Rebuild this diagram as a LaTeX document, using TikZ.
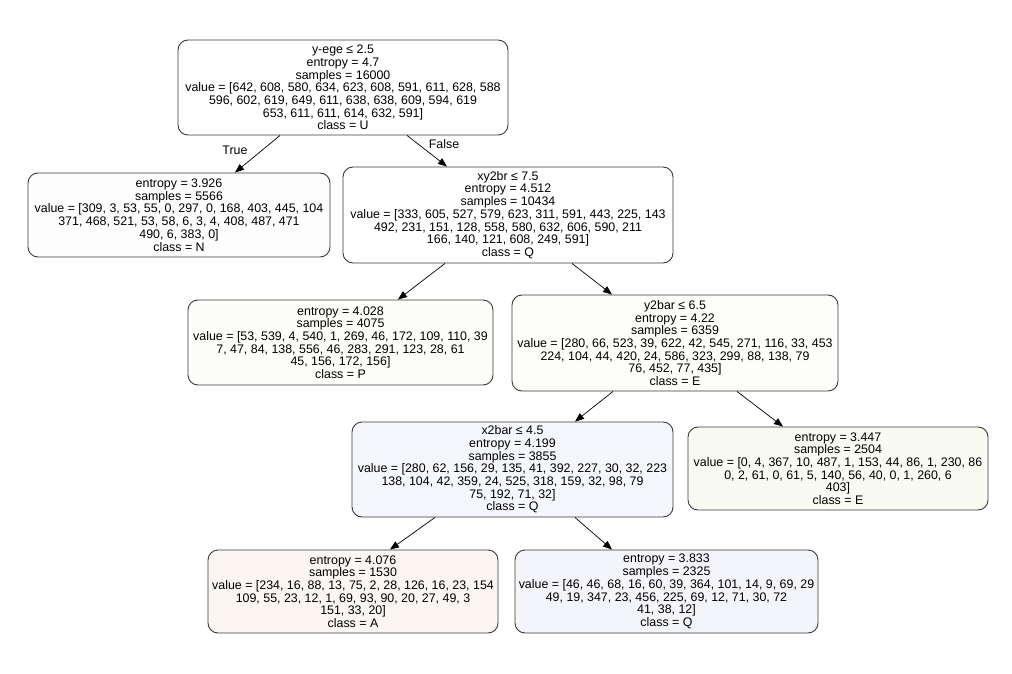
\documentclass[tikz,border=0pt]{standalone}
\usepackage{fontspec}
\setmainfont{Liberation Sans}
\usetikzlibrary{arrows.meta}
\definecolor{edgegray}{HTML}{3A3A3A}
\definecolor{cN}{HTML}{FDFDFD}
\definecolor{cP}{HTML}{FCFCF9}
\definecolor{cE}{HTML}{FDFDFA}
\definecolor{cQa}{HTML}{F5F7FC}
\definecolor{cEb}{HTML}{F9FAF1}
\definecolor{cA}{HTML}{FCF6F2}
\definecolor{cQb}{HTML}{F4F4FB}
\tikzset{
  treebox/.style={draw=edgegray, line width=0.9pt, rounded corners=10pt,
    align=center, inner sep=0pt, font=\fontsize{12.4}{12.7}\selectfont},
  branch/.style={draw=black, line width=0.7pt,
    -{Triangle[length=9pt,width=7pt]}},
  edgelabel/.style={font=\fontsize{12.4}{12.7}\selectfont}
}
\begin{document}
\begin{tikzpicture}[x=1pt,y=-1pt]
\useasboundingbox (0,0) rectangle (1012,674);

\node[treebox, fill=white, minimum width=330pt, minimum height=95pt] (root) at (343,87.5)
  {y-ege ≤ 2.5\\entropy = 4.7\\samples = 16000\\value = [642, 608, 580, 634, 623, 608, 591, 611, 628, 588\\596, 602, 619, 649, 611, 638, 638, 609, 594, 619\\653, 611, 611, 614, 632, 591]\\class = U};

\node[treebox, fill=cN, minimum width=302pt, minimum height=84pt] (n1) at (179,215)
  {entropy = 3.926\\samples = 5566\\value = [309, 3, 53, 55, 0, 297, 0, 168, 403, 445, 104\\371, 468, 521, 53, 58, 6, 3, 4, 408, 487, 471\\490, 6, 383, 0]\\class = N};

\node[treebox, fill=white, minimum width=330pt, minimum height=96pt] (n2) at (508,215)
  {xy2br ≤ 7.5\\entropy = 4.512\\samples = 10434\\value = [333, 605, 527, 579, 623, 311, 591, 443, 225, 143\\492, 231, 151, 128, 558, 580, 632, 606, 590, 211\\166, 140, 121, 608, 249, 591]\\class = Q};

\node[treebox, fill=cP, minimum width=305pt, minimum height=85pt] (n3) at (340.5,342.5)
  {entropy = 4.028\\samples = 4075\\value = [53, 539, 4, 540, 1, 269, 46, 172, 109, 110, 39\\7, 47, 84, 138, 556, 46, 283, 291, 123, 28, 61\\45, 156, 172, 156]\\class = P};

\node[treebox, fill=cE, minimum width=326pt, minimum height=96pt] (n4) at (675,343)
  {y2bar ≤ 6.5\\entropy = 4.22\\samples = 6359\\value = [280, 66, 523, 39, 622, 42, 545, 271, 116, 33, 453\\224, 104, 44, 420, 24, 586, 323, 299, 88, 138, 79\\76, 452, 77, 435]\\class = E};

\node[treebox, fill=cQa, minimum width=321pt, minimum height=95pt] (n5) at (512.5,469.5)
  {x2bar ≤ 4.5\\entropy = 4.199\\samples = 3855\\value = [280, 62, 156, 29, 135, 41, 392, 227, 30, 32, 223\\138, 104, 42, 359, 24, 525, 318, 159, 32, 98, 79\\75, 192, 71, 32]\\class = Q};

\node[treebox, fill=cEb, minimum width=300pt, minimum height=83pt] (n6) at (838,468.5)
  {entropy = 3.447\\samples = 2504\\value = [0, 4, 367, 10, 487, 1, 153, 44, 86, 1, 230, 86\\0, 2, 61, 0, 61, 5, 140, 56, 40, 0, 1, 260, 6\\403]\\class = E};

\node[treebox, fill=cA, minimum width=290pt, minimum height=83pt] (n7) at (353,591.5)
  {entropy = 4.076\\samples = 1530\\value = [234, 16, 88, 13, 75, 2, 28, 126, 16, 23, 154\\109, 55, 23, 12, 1, 69, 93, 90, 20, 27, 49, 3\\151, 33, 20]\\class = A};

\node[treebox, fill=cQb, minimum width=303pt, minimum height=83pt] (n8) at (666.5,591.5)
  {entropy = 3.833\\samples = 2325\\value = [46, 46, 68, 16, 60, 39, 364, 101, 14, 9, 69, 29\\49, 19, 347, 23, 456, 225, 69, 12, 71, 30, 72\\41, 38, 12]\\class = Q};

% branches
\draw[branch] ([xshift=-63pt]root.south) -- ([xshift=56pt]n1.north);
\draw[branch] ([xshift=64pt]root.south) -- ([xshift=-61pt]n2.north);
\draw[branch] ([xshift=-63pt]n2.south) -- ([xshift=57.5pt]n3.north);
\draw[branch] ([xshift=64pt]n2.south) -- ([xshift=-63pt]n4.north);
\draw[branch] ([xshift=-62pt]n4.south) -- ([xshift=62.5pt]n5.north);
\draw[branch] ([xshift=62pt]n4.south) -- ([xshift=-55pt]n6.north);
\draw[branch] ([xshift=-77.5pt]n5.south) -- ([xshift=37pt]n7.north);
\draw[branch] ([xshift=62.5pt]n5.south) -- ([xshift=-54.5pt]n8.north);

% branch labels
\node[edgelabel] (ltrue) at (235,150) {True};
\node[edgelabel] (lfalse) at (444,144) {False};
\end{tikzpicture}
\end{document}
